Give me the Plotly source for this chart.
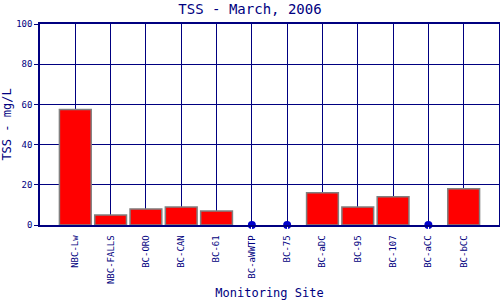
import plotly.graph_objects as go

sites = ["NBC-Lw", "NBC-FALLS", "BC-ORO", "BC-CAN", "BC-61", "BC-aWWTP",
         "BC-75", "BC-aDC", "BC-95", "BC-107", "BC-aCC", "BC-bCC"]
tss = [57.5, 5, 8, 9, 7, 0, 0, 16, 9, 14, 0, 18]
y_ticks = [0, 20, 40, 60, 80, 100]

navy = "#000080"
font = "DejaVu Sans Mono"

bar_vals = [v if v != 0 else None for v in tss]
zero_sites = [s for s, v in zip(sites, tss) if v == 0]
zero_vals = [v for v in tss if v == 0]

fig = go.Figure()
fig.add_trace(go.Bar(
    x=sites, y=bar_vals, width=0.9,
    marker=dict(color="#ff0000", line=dict(color="#808080", width=1.5)),
))
fig.add_trace(go.Scatter(
    x=zero_sites, y=zero_vals, mode="markers",
    marker=dict(color="#0000cc", size=8), cliponaxis=False,
))

fig.update_layout(
    width=500, height=300,
    margin=dict(l=40, r=1, t=24, b=75),
    paper_bgcolor="white", plot_bgcolor="white",
    showlegend=False,
    title=dict(text="TSS - March, 2006", x=0.5, xanchor="center",
               y=0.97, yanchor="middle",
               font=dict(family=font, size=14, color=navy)),
    font=dict(family=font, color=navy),
)
fig.update_xaxes(
    type="category", categoryorder="array", categoryarray=sites,
    range=[-1, 12], tickangle=-90, automargin=False,
    tickfont=dict(family=font, size=9, color=navy),
    showgrid=True, gridcolor=navy, gridwidth=1,
    showline=True, linecolor=navy, linewidth=1.5, mirror=True,
    ticks="outside", ticklen=5, tickcolor="white", fixedrange=True,
    title=dict(text="Monitoring Site", standoff=12,
               font=dict(family=font, size=12, color=navy)),
)
fig.update_yaxes(
    range=[0, 100], tickvals=y_ticks, automargin=False,
    tickfont=dict(family=font, size=9, color=navy),
    showgrid=True, gridcolor=navy, gridwidth=1,
    showline=True, linecolor=navy, linewidth=1.5, mirror=True,
    zeroline=False, ticks="outside", ticklen=4, tickcolor=navy,
    title=dict(text="TSS - mg/L", standoff=6,
               font=dict(family=font, size=12, color=navy)),
)

fig.write_html("out.html")
